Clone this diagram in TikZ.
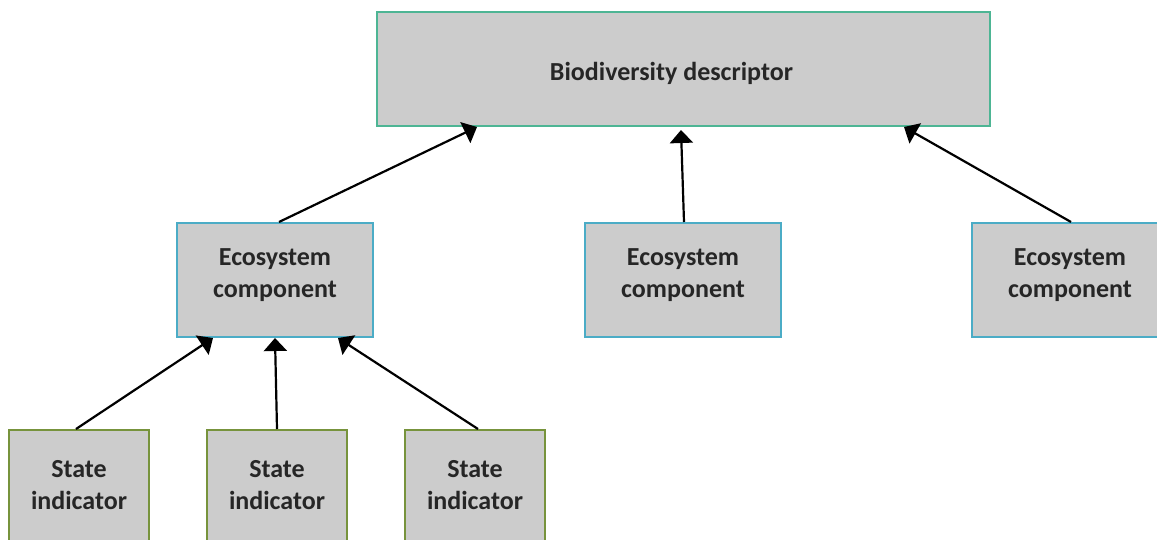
\documentclass[tikz,border=0pt]{standalone}
\usepackage{fontspec}
\setmainfont{Carlito}
\usetikzlibrary{arrows.meta}
\definecolor{boxfill}{HTML}{CCCCCC}
\definecolor{topedge}{HTML}{4DB594}
\definecolor{ecoedge}{HTML}{4BACC6}
\definecolor{stateedge}{HTML}{77933C}
\definecolor{txt}{HTML}{262626}
\tikzset{
  basebox/.style={rectangle, fill=boxfill, line width=2pt, inner sep=0pt},
  boxtext/.style={inner sep=0pt, align=center, text=txt, font=\fontsize{26}{32}\selectfont\bfseries},
  topbox/.style={basebox, draw=topedge, minimum width=613pt, minimum height=114pt},
  ecobox/.style={basebox, draw=ecoedge, minimum width=196pt, minimum height=114pt},
  statebox/.style={basebox, draw=stateedge, minimum width=140pt, minimum height=114pt},
  link/.style={line width=2.2pt, -{Triangle[width=23pt,length=13pt]}}
}
\begin{document}
\begin{tikzpicture}[x=1pt,y=-1pt]
\useasboundingbox (0,0) rectangle (1157,539);
\begin{scope}
\clip (0,0) rectangle (1157,539);
\node[topbox] (top) at (683.5,69) {};
\node[ecobox] (eco1) at (275,280) {};
\node[ecobox] (eco2) at (683,280) {};
\node[ecobox] (eco3) at (1070,280) {};
\node[statebox] (st1) at (79,487) {};
\node[statebox] (st2) at (277,487) {};
\node[statebox] (st3) at (475,487) {};
\node[boxtext] (topt) at ([xshift=-12pt,yshift=-4pt]top.center) {Biodiversity descriptor};
\node[boxtext] (eco1t) at ([yshift=5pt]eco1.center) {Ecosystem\\component};
\node[boxtext] (eco2t) at ([yshift=5pt]eco2.center) {Ecosystem\\component};
\node[boxtext] (eco3t) at ([yshift=5pt]eco3.center) {Ecosystem\\component};
\node[boxtext] (st1t) at ([yshift=2pt]st1.center) {State\\indicator};
\node[boxtext] (st2t) at ([yshift=2pt]st2.center) {State\\indicator};
\node[boxtext] (st3t) at ([yshift=2pt]st3.center) {State\\indicator};
\draw[link] ([xshift=4pt]eco1.north) -- ([xshift=101pt]top.south west);
\draw[link] ([xshift=1pt]eco2.north) -- ([xshift=-2.5pt,yshift=-3pt]top.south);
\draw[link] ([xshift=1pt]eco3.north) -- ([xshift=-87pt]top.south east);
\draw[link] ([xshift=-3pt]st1.north) -- ([xshift=37pt]eco1.south west);
\draw[link] (st2.north) -- (eco1.south);
\draw[link] ([xshift=3pt]st3.north) -- ([xshift=-36pt]eco1.south east);
\end{scope}
\end{tikzpicture}
\end{document}
